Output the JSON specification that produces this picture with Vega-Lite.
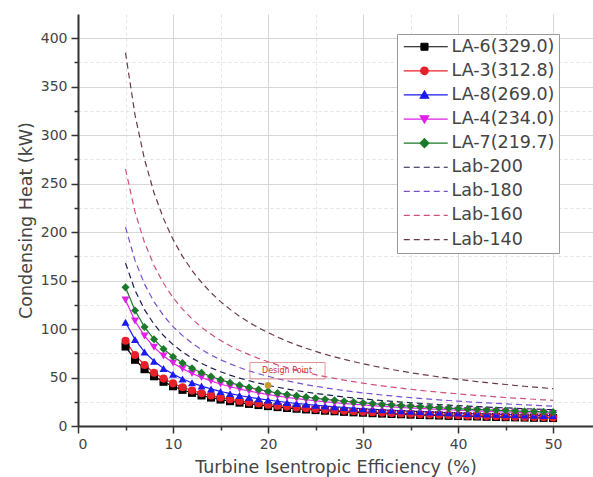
{
  "$schema": "https://vega.github.io/schema/vega-lite/v6.json",
  "autosize": {"type": "none"},
  "width": 515,
  "height": 412,
  "padding": {"left": 78, "top": 14, "right": 0, "bottom": 51},
  "background": "white",
  "config": {
    "view": {"stroke": null},
    "font": "DejaVu Sans"
  },
  "data": {"values": [
    {"x":5,"LA-6":82.0,"LA-3":88.0,"LA-8":107.0,"LA-4":130.0,"LA-7":143.0,"Lab-200":168.0,"Lab-180":205.0,"Lab-160":265.0,"Lab-140":385.0},
    {"x":6,"LA-6":68.3,"LA-3":73.3,"LA-8":89.2,"LA-4":108.3,"LA-7":119.2,"Lab-200":140.0,"Lab-180":170.8,"Lab-160":220.8,"Lab-140":320.8},
    {"x":7,"LA-6":58.6,"LA-3":62.9,"LA-8":76.4,"LA-4":92.9,"LA-7":102.1,"Lab-200":120.0,"Lab-180":146.4,"Lab-160":189.3,"Lab-140":275.0},
    {"x":8,"LA-6":51.3,"LA-3":55.0,"LA-8":66.9,"LA-4":81.3,"LA-7":89.4,"Lab-200":105.0,"Lab-180":128.1,"Lab-160":165.6,"Lab-140":240.6},
    {"x":9,"LA-6":45.6,"LA-3":48.9,"LA-8":59.4,"LA-4":72.2,"LA-7":79.4,"Lab-200":93.3,"Lab-180":113.9,"Lab-160":147.2,"Lab-140":213.9},
    {"x":10,"LA-6":41.0,"LA-3":44.0,"LA-8":53.5,"LA-4":65.0,"LA-7":71.5,"Lab-200":84.0,"Lab-180":102.5,"Lab-160":132.5,"Lab-140":192.5},
    {"x":11,"LA-6":37.3,"LA-3":40.0,"LA-8":48.6,"LA-4":59.1,"LA-7":65.0,"Lab-200":76.4,"Lab-180":93.2,"Lab-160":120.5,"Lab-140":175.0},
    {"x":12,"LA-6":34.2,"LA-3":36.7,"LA-8":44.6,"LA-4":54.2,"LA-7":59.6,"Lab-200":70.0,"Lab-180":85.4,"Lab-160":110.4,"Lab-140":160.4},
    {"x":13,"LA-6":31.5,"LA-3":33.8,"LA-8":41.2,"LA-4":50.0,"LA-7":55.0,"Lab-200":64.6,"Lab-180":78.8,"Lab-160":101.9,"Lab-140":148.1},
    {"x":14,"LA-6":29.3,"LA-3":31.4,"LA-8":38.2,"LA-4":46.4,"LA-7":51.1,"Lab-200":60.0,"Lab-180":73.2,"Lab-160":94.6,"Lab-140":137.5},
    {"x":15,"LA-6":27.3,"LA-3":29.3,"LA-8":35.7,"LA-4":43.3,"LA-7":47.7,"Lab-200":56.0,"Lab-180":68.3,"Lab-160":88.3,"Lab-140":128.3},
    {"x":16,"LA-6":25.6,"LA-3":27.5,"LA-8":33.4,"LA-4":40.6,"LA-7":44.7,"Lab-200":52.5,"Lab-180":64.1,"Lab-160":82.8,"Lab-140":120.3},
    {"x":17,"LA-6":24.1,"LA-3":25.9,"LA-8":31.5,"LA-4":38.2,"LA-7":42.1,"Lab-200":49.4,"Lab-180":60.3,"Lab-160":77.9,"Lab-140":113.2},
    {"x":18,"LA-6":22.8,"LA-3":24.4,"LA-8":29.7,"LA-4":36.1,"LA-7":39.7,"Lab-200":46.7,"Lab-180":56.9,"Lab-160":73.6,"Lab-140":106.9},
    {"x":19,"LA-6":21.6,"LA-3":23.2,"LA-8":28.2,"LA-4":34.2,"LA-7":37.6,"Lab-200":44.2,"Lab-180":53.9,"Lab-160":69.7,"Lab-140":101.3},
    {"x":20,"LA-6":20.5,"LA-3":22.0,"LA-8":26.8,"LA-4":32.5,"LA-7":35.8,"Lab-200":42.0,"Lab-180":51.3,"Lab-160":66.3,"Lab-140":96.3},
    {"x":21,"LA-6":19.5,"LA-3":21.0,"LA-8":25.5,"LA-4":31.0,"LA-7":34.0,"Lab-200":40.0,"Lab-180":48.8,"Lab-160":63.1,"Lab-140":91.7},
    {"x":22,"LA-6":18.6,"LA-3":20.0,"LA-8":24.3,"LA-4":29.5,"LA-7":32.5,"Lab-200":38.2,"Lab-180":46.6,"Lab-160":60.2,"Lab-140":87.5},
    {"x":23,"LA-6":17.8,"LA-3":19.1,"LA-8":23.3,"LA-4":28.3,"LA-7":31.1,"Lab-200":36.5,"Lab-180":44.6,"Lab-160":57.6,"Lab-140":83.7},
    {"x":24,"LA-6":17.1,"LA-3":18.3,"LA-8":22.3,"LA-4":27.1,"LA-7":29.8,"Lab-200":35.0,"Lab-180":42.7,"Lab-160":55.2,"Lab-140":80.2},
    {"x":25,"LA-6":16.4,"LA-3":17.6,"LA-8":21.4,"LA-4":26.0,"LA-7":28.6,"Lab-200":33.6,"Lab-180":41.0,"Lab-160":53.0,"Lab-140":77.0},
    {"x":26,"LA-6":15.8,"LA-3":16.9,"LA-8":20.6,"LA-4":25.0,"LA-7":27.5,"Lab-200":32.3,"Lab-180":39.4,"Lab-160":51.0,"Lab-140":74.0},
    {"x":27,"LA-6":15.2,"LA-3":16.3,"LA-8":19.8,"LA-4":24.1,"LA-7":26.5,"Lab-200":31.1,"Lab-180":38.0,"Lab-160":49.1,"Lab-140":71.3},
    {"x":28,"LA-6":14.6,"LA-3":15.7,"LA-8":19.1,"LA-4":23.2,"LA-7":25.5,"Lab-200":30.0,"Lab-180":36.6,"Lab-160":47.3,"Lab-140":68.8},
    {"x":29,"LA-6":14.1,"LA-3":15.2,"LA-8":18.4,"LA-4":22.4,"LA-7":24.7,"Lab-200":29.0,"Lab-180":35.3,"Lab-160":45.7,"Lab-140":66.4},
    {"x":30,"LA-6":13.7,"LA-3":14.7,"LA-8":17.8,"LA-4":21.7,"LA-7":23.8,"Lab-200":28.0,"Lab-180":34.2,"Lab-160":44.2,"Lab-140":64.2},
    {"x":31,"LA-6":13.2,"LA-3":14.2,"LA-8":17.3,"LA-4":21.0,"LA-7":23.1,"Lab-200":27.1,"Lab-180":33.1,"Lab-160":42.7,"Lab-140":62.1},
    {"x":32,"LA-6":12.8,"LA-3":13.8,"LA-8":16.7,"LA-4":20.3,"LA-7":22.3,"Lab-200":26.3,"Lab-180":32.0,"Lab-160":41.4,"Lab-140":60.2},
    {"x":33,"LA-6":12.4,"LA-3":13.3,"LA-8":16.2,"LA-4":19.7,"LA-7":21.7,"Lab-200":25.5,"Lab-180":31.1,"Lab-160":40.2,"Lab-140":58.3},
    {"x":34,"LA-6":12.1,"LA-3":12.9,"LA-8":15.7,"LA-4":19.1,"LA-7":21.0,"Lab-200":24.7,"Lab-180":30.1,"Lab-160":39.0,"Lab-140":56.6},
    {"x":35,"LA-6":11.7,"LA-3":12.6,"LA-8":15.3,"LA-4":18.6,"LA-7":20.4,"Lab-200":24.0,"Lab-180":29.3,"Lab-160":37.9,"Lab-140":55.0},
    {"x":36,"LA-6":11.4,"LA-3":12.2,"LA-8":14.9,"LA-4":18.1,"LA-7":19.9,"Lab-200":23.3,"Lab-180":28.5,"Lab-160":36.8,"Lab-140":53.5},
    {"x":37,"LA-6":11.1,"LA-3":11.9,"LA-8":14.5,"LA-4":17.6,"LA-7":19.3,"Lab-200":22.7,"Lab-180":27.7,"Lab-160":35.8,"Lab-140":52.0},
    {"x":38,"LA-6":10.8,"LA-3":11.6,"LA-8":14.1,"LA-4":17.1,"LA-7":18.8,"Lab-200":22.1,"Lab-180":27.0,"Lab-160":34.9,"Lab-140":50.7},
    {"x":39,"LA-6":10.5,"LA-3":11.3,"LA-8":13.7,"LA-4":16.7,"LA-7":18.3,"Lab-200":21.5,"Lab-180":26.3,"Lab-160":34.0,"Lab-140":49.4},
    {"x":40,"LA-6":10.3,"LA-3":11.0,"LA-8":13.4,"LA-4":16.3,"LA-7":17.9,"Lab-200":21.0,"Lab-180":25.6,"Lab-160":33.1,"Lab-140":48.1},
    {"x":41,"LA-6":10.0,"LA-3":10.7,"LA-8":13.0,"LA-4":15.9,"LA-7":17.4,"Lab-200":20.5,"Lab-180":25.0,"Lab-160":32.3,"Lab-140":47.0},
    {"x":42,"LA-6":9.8,"LA-3":10.5,"LA-8":12.7,"LA-4":15.5,"LA-7":17.0,"Lab-200":20.0,"Lab-180":24.4,"Lab-160":31.5,"Lab-140":45.8},
    {"x":43,"LA-6":9.5,"LA-3":10.2,"LA-8":12.4,"LA-4":15.1,"LA-7":16.6,"Lab-200":19.5,"Lab-180":23.8,"Lab-160":30.8,"Lab-140":44.8},
    {"x":44,"LA-6":9.3,"LA-3":10.0,"LA-8":12.2,"LA-4":14.8,"LA-7":16.3,"Lab-200":19.1,"Lab-180":23.3,"Lab-160":30.1,"Lab-140":43.8},
    {"x":45,"LA-6":9.1,"LA-3":9.8,"LA-8":11.9,"LA-4":14.4,"LA-7":15.9,"Lab-200":18.7,"Lab-180":22.8,"Lab-160":29.4,"Lab-140":42.8},
    {"x":46,"LA-6":8.9,"LA-3":9.6,"LA-8":11.6,"LA-4":14.1,"LA-7":15.5,"Lab-200":18.3,"Lab-180":22.3,"Lab-160":28.8,"Lab-140":41.8},
    {"x":47,"LA-6":8.7,"LA-3":9.4,"LA-8":11.4,"LA-4":13.8,"LA-7":15.2,"Lab-200":17.9,"Lab-180":21.8,"Lab-160":28.2,"Lab-140":41.0},
    {"x":48,"LA-6":8.5,"LA-3":9.2,"LA-8":11.1,"LA-4":13.5,"LA-7":14.9,"Lab-200":17.5,"Lab-180":21.4,"Lab-160":27.6,"Lab-140":40.1},
    {"x":49,"LA-6":8.4,"LA-3":9.0,"LA-8":10.9,"LA-4":13.3,"LA-7":14.6,"Lab-200":17.1,"Lab-180":20.9,"Lab-160":27.0,"Lab-140":39.3},
    {"x":50,"LA-6":8.2,"LA-3":8.8,"LA-8":10.7,"LA-4":13.0,"LA-7":14.3,"Lab-200":16.8,"Lab-180":20.5,"Lab-160":26.5,"Lab-140":38.5}
  ]},
  "encoding": {
    "x": {
      "field": "x", "type": "quantitative",
      "scale": {"domain": [0, 54.2], "nice": false, "zero": false},
      "axis": {
        "title": "Turbine Isentropic Efficiency (%)",
        "values": [0, 5, 10, 15, 20, 25, 30, 35, 40, 45, 50],
        "labelExpr": "datum.value % 10 == 0 ? datum.label : ''",
        "labelOverlap": false,
        "labelFont": "DejaVu Sans", "labelFontSize": 14, "labelColor": "#444", "labelPadding": 4,
        "titleFont": "DejaVu Sans", "titleFontSize": 17.5, "titleFontWeight": "normal", "titleColor": "#444", "titlePadding": 7,
        "domainColor": "#333", "domainWidth": 2,
        "tickColor": "#333", "tickWidth": 1.5,
        "tickSize": {"condition": {"test": "datum.value % 10 == 0", "value": 7}, "value": 4},
        "grid": true,
        "gridColor": {"condition": {"test": "datum.value % 10 == 0", "value": "#d6d6d6"}, "value": "#e2e2e2"},
        "gridDash": {"condition": {"test": "datum.value % 10 == 0", "value": []}, "value": [3, 3]}
      }
    },
    "y": {
      "field": "y", "type": "quantitative",
      "scale": {"domain": [0, 425], "nice": false, "zero": false},
      "axis": {
        "title": "Condensing Heat (kW)",
        "values": [0, 25, 50, 75, 100, 125, 150, 175, 200, 225, 250, 275, 300, 325, 350, 375, 400],
        "labelExpr": "datum.value % 50 == 0 ? datum.label : ''",
        "labelOverlap": false,
        "labelFont": "DejaVu Sans", "labelFontSize": 14, "labelColor": "#444", "labelPadding": 4,
        "titleFont": "DejaVu Sans", "titleFontSize": 17.5, "titleFontWeight": "normal", "titleColor": "#444", "titlePadding": 5,
        "domainColor": "#333", "domainWidth": 2,
        "tickColor": "#333", "tickWidth": 1.5,
        "tickSize": {"condition": {"test": "datum.value % 50 == 0", "value": 7}, "value": 4},
        "grid": true,
        "gridColor": {"condition": {"test": "datum.value % 50 == 0", "value": "#d6d6d6"}, "value": "#e2e2e2"},
        "gridDash": {"condition": {"test": "datum.value % 50 == 0", "value": []}, "value": [3, 3]}
      }
    }
  },
  "layer": [
    {
      "data": {"values": [{"y": 425}]},
      "mark": {"type": "rule", "color": "#333", "strokeWidth": 2},
      "encoding": {"x": {"datum": 0}, "x2": {"datum": 54.2}}
    },
    {
      "transform": [{"fold": ["LA-6", "LA-3", "LA-8", "LA-4", "LA-7", "Lab-200", "Lab-180", "Lab-160", "Lab-140"], "as": ["series", "y"]}],
      "mark": {"type": "line", "strokeWidth": 1.2},
      "encoding": {
        "color": {
          "field": "series", "type": "nominal",
          "scale": {
            "domain": ["LA-6", "LA-3", "LA-8", "LA-4", "LA-7", "Lab-200", "Lab-180", "Lab-160", "Lab-140"],
            "range": ["#000000", "#e8202a", "#1a1af0", "#e020e8", "#1a7a2a", "#1c1c4c", "#7a50d0", "#d0507a", "#6a3a4a"]
          },
          "legend": {
            "title": null,
            "orient": "none", "legendX": 319, "legendY": 20,
            "padding": 4, "strokeColor": "#9a9a9a", "fillColor": "white",
            "labelFont": "DejaVu Sans", "labelFontSize": 17.5, "labelColor": "#444", "labelLimit": 0,
            "labelOffset": 33, "rowPadding": 5.1, "symbolSize": 100,
            "labelExpr": "['LA-6(329.0)','LA-3(312.8)','LA-8(269.0)','LA-4(234.0)','LA-7(219.7)','Lab-200','Lab-180','Lab-160','Lab-140'][indexof(['LA-6','LA-3','LA-8','LA-4','LA-7','Lab-200','Lab-180','Lab-160','Lab-140'], datum.label)]",
            "encode": {
              "symbols": {
                "update": {
                  "shape": {"signal": "['M-1.2,0L7.6,0M2.24,-0.7L3.64,-0.7L3.64,0.7L2.24,0.7Z','M-1.2,0L7.6,0M2.19,0A0.75,0.75,0,1,0,3.69,0A0.75,0.75,0,1,0,2.19,0Z','M-1.2,0L7.6,0M2.94,-0.8L3.79,0.65L2.09,0.65Z','M-1.2,0L7.6,0M2.94,0.8L3.79,-0.65L2.09,-0.65Z','M-1.2,0L7.6,0M2.94,-0.9L3.84,0L2.94,0.9L2.04,0Z','M-1.2,0L7.6,0','M-1.2,0L7.6,0','M-1.2,0L7.6,0','M-1.2,0L7.6,0'][indexof(['LA-6','LA-3','LA-8','LA-4','LA-7','Lab-200','Lab-180','Lab-160','Lab-140'], datum.value)]"},
                  "fill": {"signal": "indexof(['LA-6','LA-3','LA-8','LA-4','LA-7'], datum.value) >= 0 ? scale('color', datum.value) : 'transparent'"},
                  "stroke": {"signal": "scale('color', datum.value)"},
                  "strokeDash": {"signal": "indexof(['LA-6','LA-3','LA-8','LA-4','LA-7'], datum.value) >= 0 ? [1,0] : [5,3]"},
                  "strokeWidth": {"value": 1.2},
                  "opacity": {"value": 1},
                  "fillOpacity": {"value": 1},
                  "size": {"value": 100}
                }
              }
            }
          }
        },
        "strokeDash": {
          "field": "series", "type": "nominal",
          "scale": {
            "domain": ["LA-6", "LA-3", "LA-8", "LA-4", "LA-7", "Lab-200", "Lab-180", "Lab-160", "Lab-140"],
            "range": [[1, 0], [1, 0], [1, 0], [1, 0], [1, 0], [6, 4], [6, 4], [6, 4], [6, 4]]
          },
          "legend": null
        }
      }
    },
    {
      "transform": [{"fold": ["LA-6", "LA-3", "LA-8", "LA-4", "LA-7"], "as": ["series", "y"]}],
      "mark": {"type": "point", "filled": true, "size": 65, "opacity": 1},
      "encoding": {
        "color": {
          "field": "series", "type": "nominal",
          "scale": {
            "domain": ["LA-6", "LA-3", "LA-8", "LA-4", "LA-7", "Lab-200", "Lab-180", "Lab-160", "Lab-140"],
            "range": ["#000000", "#e8202a", "#1a1af0", "#e020e8", "#1a7a2a", "#1c1c4c", "#7a50d0", "#d0507a", "#6a3a4a"]
          },
          "legend": {
            "title": null,
            "orient": "none", "legendX": 319, "legendY": 20,
            "padding": 4, "strokeColor": "#9a9a9a", "fillColor": "white",
            "labelFont": "DejaVu Sans", "labelFontSize": 17.5, "labelColor": "#444", "labelLimit": 0,
            "labelOffset": 33, "rowPadding": 5.1, "symbolSize": 100,
            "labelExpr": "['LA-6(329.0)','LA-3(312.8)','LA-8(269.0)','LA-4(234.0)','LA-7(219.7)','Lab-200','Lab-180','Lab-160','Lab-140'][indexof(['LA-6','LA-3','LA-8','LA-4','LA-7','Lab-200','Lab-180','Lab-160','Lab-140'], datum.label)]",
            "encode": {
              "symbols": {
                "update": {
                  "shape": {"signal": "['M-1.2,0L7.6,0M2.24,-0.7L3.64,-0.7L3.64,0.7L2.24,0.7Z','M-1.2,0L7.6,0M2.19,0A0.75,0.75,0,1,0,3.69,0A0.75,0.75,0,1,0,2.19,0Z','M-1.2,0L7.6,0M2.94,-0.8L3.79,0.65L2.09,0.65Z','M-1.2,0L7.6,0M2.94,0.8L3.79,-0.65L2.09,-0.65Z','M-1.2,0L7.6,0M2.94,-0.9L3.84,0L2.94,0.9L2.04,0Z','M-1.2,0L7.6,0','M-1.2,0L7.6,0','M-1.2,0L7.6,0','M-1.2,0L7.6,0'][indexof(['LA-6','LA-3','LA-8','LA-4','LA-7','Lab-200','Lab-180','Lab-160','Lab-140'], datum.value)]"},
                  "fill": {"signal": "indexof(['LA-6','LA-3','LA-8','LA-4','LA-7'], datum.value) >= 0 ? scale('color', datum.value) : 'transparent'"},
                  "stroke": {"signal": "scale('color', datum.value)"},
                  "strokeDash": {"signal": "indexof(['LA-6','LA-3','LA-8','LA-4','LA-7'], datum.value) >= 0 ? [1,0] : [5,3]"},
                  "strokeWidth": {"value": 1.2},
                  "opacity": {"value": 1},
                  "fillOpacity": {"value": 1},
                  "size": {"value": 100}
                }
              }
            }
          }
        },
        "shape": {
          "field": "series", "type": "nominal",
          "scale": {
            "domain": ["LA-6", "LA-3", "LA-8", "LA-4", "LA-7"],
            "range": ["square", "circle", "triangle-up", "triangle-down", "diamond"]
          },
          "legend": null
        }
      }
    },
    {
      "data": {"values": [{"x": 18.1, "x2": 26.0, "y": 48.5, "y2": 65.5}]},
      "mark": {"type": "rect", "filled": false, "stroke": "#e07a7a", "strokeWidth": 0.8},
      "encoding": {"x2": {"field": "x2"}, "y2": {"field": "y2"}}
    },
    {
      "data": {"values": [{"x": 22.0, "y": 57.0, "label": "Design Point"}]},
      "mark": {"type": "text", "font": "DejaVu Sans", "fontSize": 8, "color": "#d03030", "align": "center", "baseline": "middle"},
      "encoding": {"text": {"field": "label"}}
    },
    {
      "data": {"values": [{"x": 20, "y": 42.0}]},
      "mark": {"type": "point", "filled": true, "size": 45, "color": "#c89a30", "shape": "circle", "opacity": 1}
    }
  ]
}
